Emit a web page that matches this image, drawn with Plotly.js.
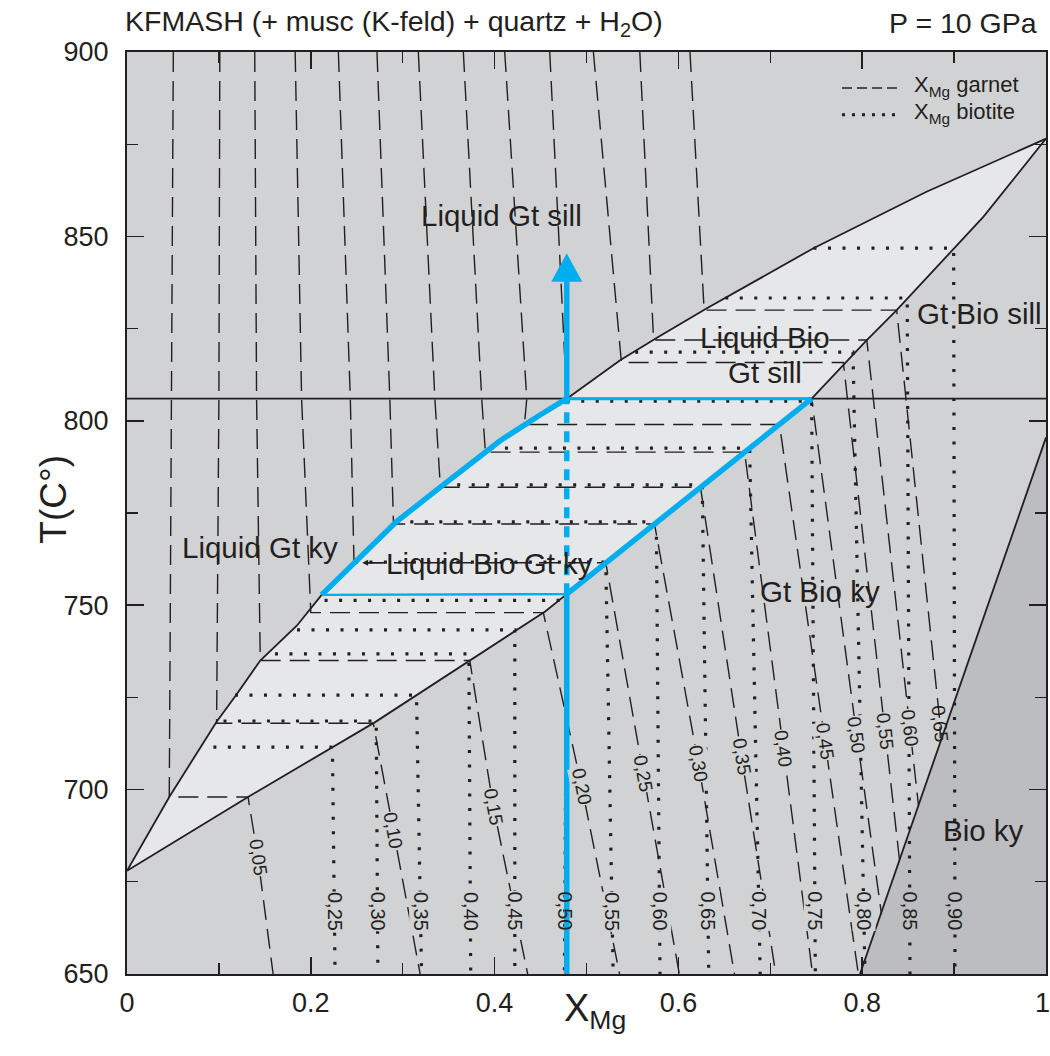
<!DOCTYPE html>
<html><head><meta charset="utf-8">
<script src="https://cdn.plot.ly/plotly-3.0.1.min.js"></script>
<style>html,body{margin:0;padding:0;background:#fff}</style>
</head><body><div id="chart" style="width:1050px;height:1056px"></div>
<script>
// ---------- data ----------
const reactionT = 806;
const liqKyX = [0, 0.046, 0.0975, 0.119, 0.145, 0.185, 0.2118];
const liqKyT = [678, 698, 718.4, 725.7, 735, 744.5, 752.8];
const meltPathX = [0.2118, 0.25, 0.293, 0.342, 0.375, 0.406, 0.449, 0.4785];
const meltPathT = [752.8, 762.3, 772.6, 782.2, 788.5, 794.6, 801.5, 806];
const solKyX = [0, 0.1317, 0.27, 0.37, 0.455, 0.4785];
const solKyT = [678, 698, 718.3, 734.5, 748.3, 753];
const bioOutX = [0.4785, 0.574, 0.672, 0.745];
const bioOutT = [753, 772, 791.5, 806];
const liqSillX = [0.4785, 0.515, 0.537, 0.578, 0.631, 0.747, 0.870, 1];
const liqSillT = [806, 812.4, 816.5, 822.7, 830.5, 846.8, 862.1, 876.5];
const solSillX = [0.745, 0.805, 0.8375, 0.8955, 0.9318, 1];
const solSillT = [806, 821.9, 830, 845.4, 855.3, 876.5];
const bioKyX = [0.7976, 1];
const bioKyT = [650, 795.5];

// blue P-T path (vertical at bulk XMg)
const pathX = 0.4785;
const pathT = [650, 753, 806, 837.7, 845.4];

// axis ticks
const xTickVals = [0, 0.2, 0.4, 0.6, 0.8, 1];
const xTickText = ['0', '0.2', '0.4', '0.6', '0.8', '1'];
const xMinorVals = [0.1, 0.3, 0.5, 0.7, 0.9];

// garnet XMg isopleths
const gtValues = [0.05, 0.10, 0.15, 0.20, 0.25, 0.30, 0.35, 0.40, 0.45, 0.50, 0.55, 0.60, 0.65];
const gtTopX   = [0.0504, 0.101, 0.139, 0.183, 0.230, 0.272, 0.317, 0.366, 0.411, 0.460, 0.5075, 0.558, 0.6126];
const gtMidX   = [0.0486, 0.100, 0.141, 0.190, 0.243, 0.286, 0.335, 0.386, 0.435, null, null, null, null];
const gtTieT   = [698, 718, 735, 748, 761.5, 772, 782, 791.5, 799, 806, 815.8, 821.9, 830];
const gtTieL   = [0.046, 0.0975, 0.145, 0.200, 0.247, 0.290, 0.341, 0.390, 0.4325, 0.4785, 0.538, 0.573, 0.628];
const gtTieR   = [0.1317, 0.268, 0.373, 0.453, 0.521, 0.574, 0.624, 0.672, 0.710, 0.745, 0.7795, 0.805, 0.8375];
const gtLabelX = [0.1425, 0.2898, 0.3986, 0.4948, 0.5618, 0.6217, 0.6688, 0.7142, 0.7595, 0.794, 0.8248, 0.852, 0.8847];
const gtLabelT = [681.5, 689, 695.4, 700.8, 704.4, 707.1, 708.9, 711.2, 713, 714.8, 715.7, 716.6, 718];
const gtEndX   = [0.159, 0.319, 0.436, 0.536, 0.601, 0.661, 0.706, 0.746, 0.7958, 0.821, 0.8406, 0.8612, 0.8849];
const gtEndT   = [650, 650, 650, 650, 650, 650, 650, 650, 650, 666.2, 680.9, 695.8, 713.9];

// biotite XMg isopleths
const btValues = [0.25, 0.30, 0.35, 0.40, 0.45, 0.50, 0.55, 0.60, 0.65, 0.70, 0.75, 0.80, 0.85, 0.90];
const btTieT   = [711.5, 718.6, 725.6, 736.8, 743.3, 751.3, 761.7, 772.6, 782.6, 792.6, 805.3, 818.6, 833.3, 846.8];
const btTieL   = [0.094, 0.105, 0.1175, 0.161, 0.185, 0.215, 0.248, 0.2925, 0.3435, 0.3955, 0.4785, 0.553, 0.651, 0.747];
const btTieR   = [0.2235, 0.2712, 0.315, 0.372, 0.422, 0.4785, 0.521, 0.576, 0.626, 0.6775, 0.745, 0.790, 0.849, 0.8995];
const btEndX   = [0.2264, 0.273, 0.3205, 0.374, 0.422, 0.476, 0.529, 0.580, 0.633, 0.689, 0.749, 0.803, 0.852, 0.901];
const btLabelT = 667;

// ---------- styling ----------
const INK = '#231f20';
const FIELD = '#d1d2d4';
const LENS = '#e6e7e8';
const BIOKY = '#bcbdc0';
const BLUE = '#00aeef';
const FONT = 'Liberation Sans, Arial, Helvetica, sans-serif';
const M = {l: 127, r: 4, t: 52, b: 82};
const W = 1050, H = 1056;
const pxPerX = (W - M.l - M.r) / 1;
const pxPerT = (H - M.t - M.b) / 250;

const traces = [];
function line(x, y, color, width, dash) {
  traces.push({type: 'scatter', mode: 'lines', x: x, y: y, hoverinfo: 'skip', showlegend: false,
    line: {color: color, width: width, dash: dash || 'solid'}});
}
function fill(x, y, color) {
  traces.push({type: 'scatter', mode: 'lines', x: x, y: y, fill: 'toself', fillcolor: color,
    line: {width: 0, color: color}, hoverinfo: 'skip', showlegend: false});
}
const rev = a => a.slice().reverse();

// fields
fill(liqKyX.concat(meltPathX.slice(1), [bioOutX[bioOutX.length - 1]], rev(bioOutX), rev(solKyX)),
     liqKyT.concat(meltPathT.slice(1), [reactionT], rev(bioOutT), rev(solKyT)), LENS);
fill(liqSillX.concat(rev(solSillX)), liqSillT.concat(rev(solSillT)), LENS);
fill([bioKyX[0], bioKyX[1], bioKyX[1]], [bioKyT[0], bioKyT[1], bioKyT[0]], BIOKY);

// garnet isopleths
const GT_DASH = '20px,9px';
gtValues.forEach((v, i) => {
  const x = [gtTopX[i]], y = [900];
  if (gtMidX[i] !== null) { x.push(gtMidX[i]); y.push(reactionT); }
  x.push(gtTieL[i], gtTieR[i], gtLabelX[i], gtEndX[i]);
  y.push(gtTieT[i], gtTieT[i], gtLabelT[i], gtEndT[i]);
  line(x, y, INK, 1.4, GT_DASH);
});
// biotite isopleths
const BT_DASH = '3px,11.5px';
btValues.forEach((v, i) => {
  line([btTieL[i], btTieR[i], btEndX[i]], [btTieT[i], btTieT[i], 650], INK, 3.2, BT_DASH);
});

// phase boundaries
line([0, 1], [reactionT, reactionT], INK, 1.8);
line(liqKyX.concat(meltPathX.slice(1)), liqKyT.concat(meltPathT.slice(1)), INK, 1.8);
line(solKyX.concat(bioOutX.slice(1)), solKyT.concat(bioOutT.slice(1)), INK, 1.8);
line(liqSillX, liqSillT, INK, 1.8);
line(solSillX, solSillT, INK, 1.8);
line(bioKyX, bioKyT, INK, 1.8);

// blue path
line(meltPathX, meltPathT, BLUE, 5.5);
line(bioOutX, bioOutT, BLUE, 5.5);
line([liqKyX[liqKyX.length - 1], pathX], [liqKyT[liqKyT.length - 1], pathT[1]], BLUE, 2.4);
line([pathX, bioOutX[bioOutX.length - 1]], [reactionT, reactionT], BLUE, 3);
line([pathX, pathX], [pathT[0], pathT[1]], BLUE, 5.5);
line([pathX, pathX], [pathT[1], pathT[2]], BLUE, 5.5, '11px,8px');
line([pathX, pathX], [pathT[2], pathT[3] + 1], BLUE, 5.5);
const headHalf = 15.5 / pxPerX;
fill([pathX - headHalf, pathX + headHalf, pathX, pathX - headHalf], [pathT[3], pathT[3], pathT[4], pathT[3]], BLUE);

// ---------- annotations ----------
const ann = [];
const fmt = v => v.toFixed(2).replace('.', ',');
const angleOf = (x1, t1, x2, t2) => Math.atan2((t1 - t2) * pxPerT, (x2 - x1) * pxPerX) * 180 / Math.PI;
const boundaryX = t => bioKyX[0] + (t - bioKyT[0]) * (bioKyX[1] - bioKyX[0]) / (bioKyT[1] - bioKyT[0]);

gtValues.forEach((v, i) => {
  const ang = angleOf(gtTieR[i], gtTieT[i], gtEndX[i], gtEndT[i]);
  const onEdge = Math.abs(gtLabelX[i] - boundaryX(gtLabelT[i])) < 0.012;
  ann.push({x: gtLabelX[i], y: gtLabelT[i], text: fmt(v), showarrow: false, textangle: ang,
    font: {family: FONT, size: 19, color: INK}, bgcolor: onEdge ? 'rgba(0,0,0,0)' : FIELD, borderpad: 0});
});
btValues.forEach((v, i) => {
  const f = (btLabelT - btTieT[i]) / (650 - btTieT[i]);
  const lx = btTieR[i] + f * (btEndX[i] - btTieR[i]);
  const onPath = Math.abs(lx - pathX) < 0.01;
  const bg = onPath ? 'rgba(0,0,0,0)' : (lx > boundaryX(btLabelT) ? BIOKY : FIELD);
  ann.push({x: lx, y: btLabelT, text: fmt(v), showarrow: false, textangle: 90,
    font: {family: FONT, size: 20, color: INK}, bgcolor: bg, borderpad: 0});
});

const fieldLabels = [
  ['Liquid Gt sill', 0.407, 855.8],
  ['Liquid Bio', 0.694, 822.5],
  ['Gt sill', 0.694, 813],
  ['Gt Bio sill', 0.928, 829.2],
  ['Liquid Gt ky', 0.1447, 765.6],
  ['Liquid Bio Gt ky', 0.3945, 761.4],
  ['Gt Bio ky', 0.754, 753.6],
  ['Bio ky', 0.9315, 689]
];
fieldLabels.forEach(f => ann.push({x: f[1], y: f[2], text: f[0], showarrow: false,
  font: {family: FONT, size: 29.5, color: INK}}));
// small arrow at the left end of the Liquid Bio Gt ky label
ann.push({x: 0.256, y: 761.5, ax: 24, ay: 0, text: ' ', showarrow: true, arrowhead: 2,
  arrowsize: 0.9, arrowwidth: 1.3, arrowcolor: INK});

// last x tick label, kept inside the page edge
ann.push({xref: 'x', yref: 'paper', x: xTickVals[xTickVals.length - 1], y: -0.0135, xanchor: 'right', xshift: 6,
  yanchor: 'top', text: xTickText[xTickText.length - 1], showarrow: false,
  font: {family: FONT, size: 27, color: INK}});

// titles
ann.push({xref: 'paper', yref: 'paper', x: -0.004, y: 1.0315, xanchor: 'left', yanchor: 'middle',
  text: 'KFMASH (+ musc (K-feld) + quartz + H<sub>2</sub>O)', showarrow: false,
  font: {family: FONT, size: 28.5, color: INK}});
ann.push({xref: 'paper', yref: 'paper', x: 0.992, y: 1.0315, xanchor: 'right', yanchor: 'middle',
  text: 'P = 10 GPa', showarrow: false, font: {family: FONT, size: 28.5, color: INK}});
ann.push({xref: 'paper', yref: 'paper', x: -0.1045, y: 0.515, textangle: -90,
  text: 'T(C°)', showarrow: false, font: {family: FONT, size: 37, color: INK}});
ann.push({xref: 'paper', yref: 'paper', x: 0.509, y: -0.068,
  text: 'X<sub>Mg</sub>', showarrow: false, font: {family: FONT, size: 38, color: INK}});

// legend
ann.push({xref: 'paper', yref: 'paper', x: 0.854, y: 0.9635, xanchor: 'left', yanchor: 'middle',
  text: 'X<sub>Mg</sub> garnet', showarrow: false, font: {family: FONT, size: 22, color: INK}});
ann.push({xref: 'paper', yref: 'paper', x: 0.854, y: 0.934, xanchor: 'left', yanchor: 'middle',
  text: 'X<sub>Mg</sub> biotite', showarrow: false, font: {family: FONT, size: 22, color: INK}});
const shapes = [
  {type: 'line', xref: 'paper', yref: 'paper', x0: 0.778, x1: 0.838, y0: 0.961, y1: 0.961,
   line: {color: INK, width: 1.4, dash: '10px,5px'}},
  {type: 'line', xref: 'paper', yref: 'paper', x0: 0.778, x1: 0.842, y0: 0.932, y1: 0.932,
   line: {color: INK, width: 3, dash: '3px,7px'}}
];

const axisCommon = {
  showline: true, linecolor: INK, linewidth: 2, mirror: 'ticks', ticks: 'inside',
  ticklen: 17, tickwidth: 1.6, tickcolor: INK, showgrid: false, zeroline: false,
  tickfont: {family: FONT, size: 27, color: INK}, fixedrange: true
};
const layout = {
  width: W, height: H, margin: M, paper_bgcolor: '#ffffff', plot_bgcolor: FIELD,
  showlegend: false,
  xaxis: Object.assign({}, axisCommon, {range: [0, 1], tickmode: 'array',
    tickvals: xTickVals, ticktext: xTickText.slice(0, -1).concat(['']),
    minor: {tickmode: 'array', tickvals: xMinorVals, ticks: 'inside', ticklen: 11, tickwidth: 1.4, tickcolor: INK},
    ticklabelstandoff: 4}),
  yaxis: Object.assign({}, axisCommon, {range: [650, 900], tick0: 650, dtick: 50,
    minor: {dtick: 25, ticks: 'inside', ticklen: 11, tickwidth: 1.4, tickcolor: INK},
    ticklabelstandoff: 11}),
  annotations: ann, shapes: shapes
};
Plotly.newPlot('chart', traces, layout, {staticPlot: true, displayModeBar: false});
</script></body></html>
